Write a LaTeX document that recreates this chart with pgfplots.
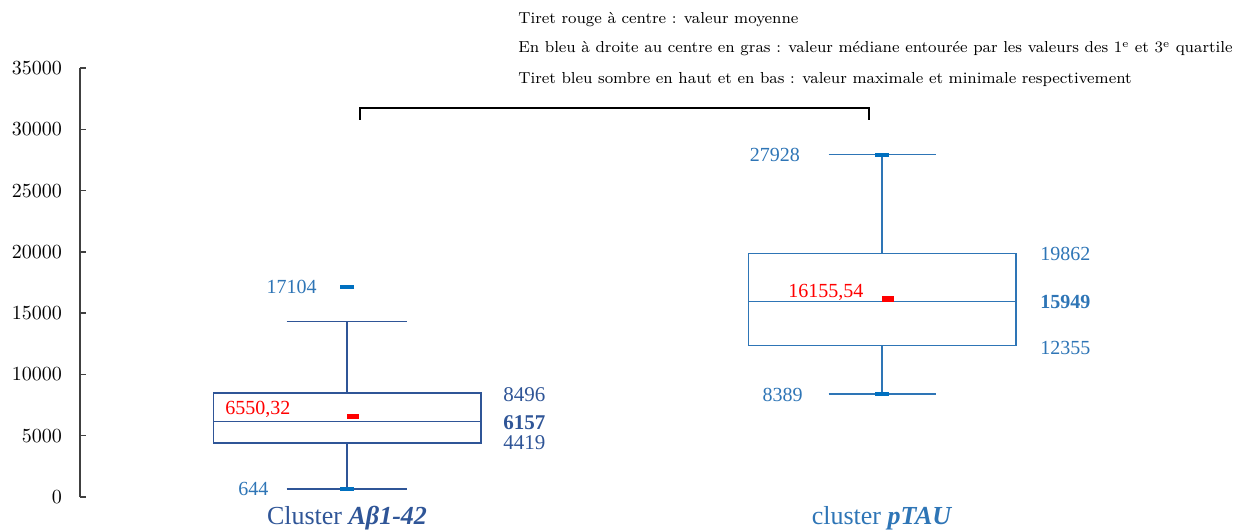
\documentclass[border=0pt]{standalone}
\usepackage{pgfplots}
\pgfplotsset{compat=1.18}
\usepackage{fontspec}
\newfontfamily\lib{Liberation Serif}

\definecolor{darkblue}{HTML}{2F5597}
\definecolor{midblue}{HTML}{2E75B6}
\definecolor{dashblue}{HTML}{0070C0}
\definecolor{axisgray}{HTML}{404040}

\tikzset{lab/.style={inner sep=0pt}}

\begin{document}
\begin{tikzpicture}
\begin{axis}[
    scale only axis,
    width=509.9pt, height=214.5pt,
    xmin=0.501, xmax=2.407,
    ymin=0, ymax=35000,
    axis y line*=left,
    axis x line=none,
    y axis line style={axisgray, line width=0.75pt},
    ytick={0,5000,...,35000},
    tick align=inside,
    major tick length=3pt,
    ytick style={axisgray, line width=0.75pt},
    scaled y ticks=false,
    yticklabel style={/pgf/number format/1000 sep={}, font=\fontsize{10}{10}\selectfont, xshift=-5.5pt},
    clip=false,
]
% cluster Abeta1-42: min 644, Q1 4419, median 6157, Q3 8496, whisker 14300
\addplot[darkblue, line width=0.75pt] coordinates {(0.75,4419) (1.25,4419) (1.25,8496) (0.75,8496) (0.75,4419)};
\addplot[darkblue, line width=0.75pt] coordinates {(0.75,6157) (1.25,6157)};
\addplot[darkblue, line width=0.75pt] coordinates {(1,8496) (1,14300)};
\addplot[darkblue, line width=0.75pt] coordinates {(1,4419) (1,644)};
\addplot[darkblue, line width=0.75pt] coordinates {(0.887,14300) (1.113,14300)};
\addplot[darkblue, line width=0.75pt] coordinates {(0.887,644) (1.113,644)};
% cluster pTAU: min 8389, Q1 12355, median 15949, Q3 19862, max 27928
\addplot[midblue, line width=0.75pt] coordinates {(1.75,12355) (2.25,12355) (2.25,19862) (1.75,19862) (1.75,12355)};
\addplot[midblue, line width=0.75pt] coordinates {(1.75,15949) (2.25,15949)};
\addplot[midblue, line width=0.75pt] coordinates {(2,19862) (2,27928)};
\addplot[midblue, line width=0.75pt] coordinates {(2,12355) (2,8389)};
\addplot[midblue, line width=0.75pt] coordinates {(1.9,27928) (2.1,27928)};
\addplot[midblue, line width=0.75pt] coordinates {(1.9,8389) (2.1,8389)};
% max / min dashes
\addplot[only marks, mark=-, mark size=3.5pt, mark options={dashblue, line width=2pt}]
    coordinates {(1,17104) (1,644) (2,27928) (2,8389)};
% means
\addplot[only marks, mark=-, mark size=3pt, mark options={red, line width=2.6pt}]
    coordinates {(1.0112,6550.32) (2.0112,16155.54)};

% value labels
\node[lab, anchor=east, text=midblue, font=\lib\fontsize{10}{12}\selectfont] at (axis cs:0.944,17104) {17104};
\node[lab, anchor=east, text=midblue, font=\lib\fontsize{10}{12}\selectfont] at (axis cs:0.854,650) {644};
\node[lab, anchor=west, text=darkblue, font=\lib\fontsize{10.5}{12}\selectfont] at (axis cs:1.2916,8322) {8496};
\node[lab, anchor=west, text=darkblue, font=\lib\fontsize{10.5}{12}\selectfont\bfseries] at (axis cs:1.2916,6037) {6157};
\node[lab, anchor=west, text=darkblue, font=\lib\fontsize{10.5}{12}\selectfont] at (axis cs:1.2916,4406) {4419};
\node[lab, anchor=west, text=red, font=\lib\fontsize{10}{12}\selectfont] at (axis cs:0.772,7180) {6550,32};
\node[lab, anchor=east, text=midblue, font=\lib\fontsize{10}{12}\selectfont] at (axis cs:1.847,27928) {27928};
\node[lab, anchor=west, text=midblue, font=\lib\fontsize{10}{12}\selectfont] at (axis cs:2.2953,19826) {19862};
\node[lab, anchor=west, text=midblue, font=\lib\fontsize{10}{12}\selectfont\bfseries] at (axis cs:2.2953,15909) {15949};
\node[lab, anchor=west, text=midblue, font=\lib\fontsize{10}{12}\selectfont] at (axis cs:2.2953,12156) {12355};
\node[lab, anchor=east, text=midblue, font=\lib\fontsize{10}{12}\selectfont] at (axis cs:1.8523,8322) {8389};
\node[lab, anchor=west, text=red, font=\lib\fontsize{10}{12}\selectfont] at (axis cs:1.8243,16725) {16155,54};

% category names
\node[lab, text=darkblue, font=\lib\fontsize{13}{15}\selectfont] at (axis cs:1,-1750) {Cluster \textbf{\textit{Aβ1-42}}};
\node[lab, text=midblue, font=\lib\fontsize{13}{15}\selectfont] at (axis cs:2,-1750) {cluster \textbf{\textit{pTAU}}};

% bracket
\draw[black, line width=1pt] (axis cs:1.0243,30760) -- (axis cs:1.0243,31740) -- (axis cs:1.9757,31740) -- (axis cs:1.9757,30760);

% explanation
\node[lab, anchor=west, font=\fontsize{7.95}{10}\selectfont] at (axis cs:1.3196,38920) {Tiret rouge à centre : valeur moyenne};
\node[lab, anchor=west, font=\fontsize{7.95}{10}\selectfont] at (axis cs:1.3196,36550) {En bleu à droite au centre en gras : valeur médiane entourée par les valeurs des 1\textsuperscript{e} et 3\textsuperscript{e} quartile};
\node[lab, anchor=west, font=\fontsize{7.95}{10}\selectfont] at (axis cs:1.3196,34100) {Tiret bleu sombre en haut et en bas : valeur maximale et minimale respectivement};

\coordinate (bl) at (axis cs:0.3514,-2692);
\coordinate (tr) at (axis cs:2.6654,40550);
\end{axis}
\pgfresetboundingbox
\path[use as bounding box] (bl) rectangle (tr);
\end{tikzpicture}
\end{document}
